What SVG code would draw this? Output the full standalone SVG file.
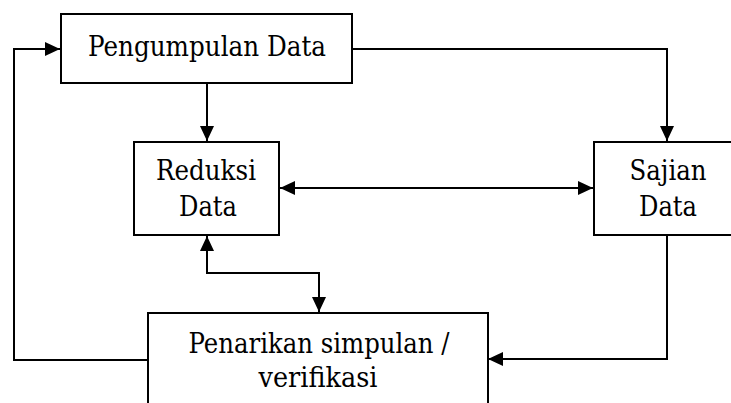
<svg xmlns="http://www.w3.org/2000/svg" width="731" height="403" viewBox="0 0 731 403">
<style>
.box{fill:#fff;stroke:#000;stroke-width:2}
.t{font-family:'DejaVu Serif',serif;font-size:27px;fill:#000;text-anchor:middle}
.c{fill:none;stroke:#000;stroke-width:2}
</style>
<defs>
<marker id="ah" markerUnits="userSpaceOnUse" markerWidth="16" markerHeight="15" refX="15" refY="7" orient="auto-start-reverse" viewBox="0 0 16 14">
<path d="M0,0 L15,7 L0,14 z" fill="#000"/>
</marker>
</defs>
<rect width="731" height="403" fill="#fff"/>
<g id="connectors">
<path class="c" d="M147,360 H14 V49 H60" marker-end="url(#ah)"/>
<path class="c" d="M352,49 H667 V141" marker-end="url(#ah)"/>
<path class="c" d="M207,83 V141" marker-end="url(#ah)"/>
<path class="c" d="M280,188 H593" marker-start="url(#ah)" marker-end="url(#ah)"/>
<path class="c" d="M207,236 V273 H319 V312" marker-start="url(#ah)" marker-end="url(#ah)"/>
<path class="c" d="M667,236 V359 H488" marker-end="url(#ah)"/>
</g>
<g id="pengumpulan">
<rect class="box" x="61" y="14" width="291" height="69"/>
<text class="t" x="207" y="56" textLength="238" lengthAdjust="spacingAndGlyphs">Pengumpulan Data</text>
</g>
<g id="reduksi">
<rect class="box" x="134" y="142" width="145" height="93"/>
<text class="t" x="206" y="180" textLength="100" lengthAdjust="spacingAndGlyphs">Reduksi</text>
<text class="t" x="208" y="216" textLength="58" lengthAdjust="spacingAndGlyphs">Data</text>
</g>
<g id="sajian">
<rect class="box" x="594" y="142" width="145" height="93"/>
<text class="t" x="668" y="180" textLength="77" lengthAdjust="spacingAndGlyphs">Sajian</text>
<text class="t" x="668" y="216" textLength="58" lengthAdjust="spacingAndGlyphs">Data</text>
</g>
<g id="penarikan">
<rect class="box" x="148" y="313" width="340" height="100"/>
<text class="t" x="319" y="353" textLength="261" lengthAdjust="spacingAndGlyphs">Penarikan simpulan /</text>
<text class="t" x="318" y="387" textLength="119" lengthAdjust="spacingAndGlyphs">verifikasi</text>
</g>
</svg>
